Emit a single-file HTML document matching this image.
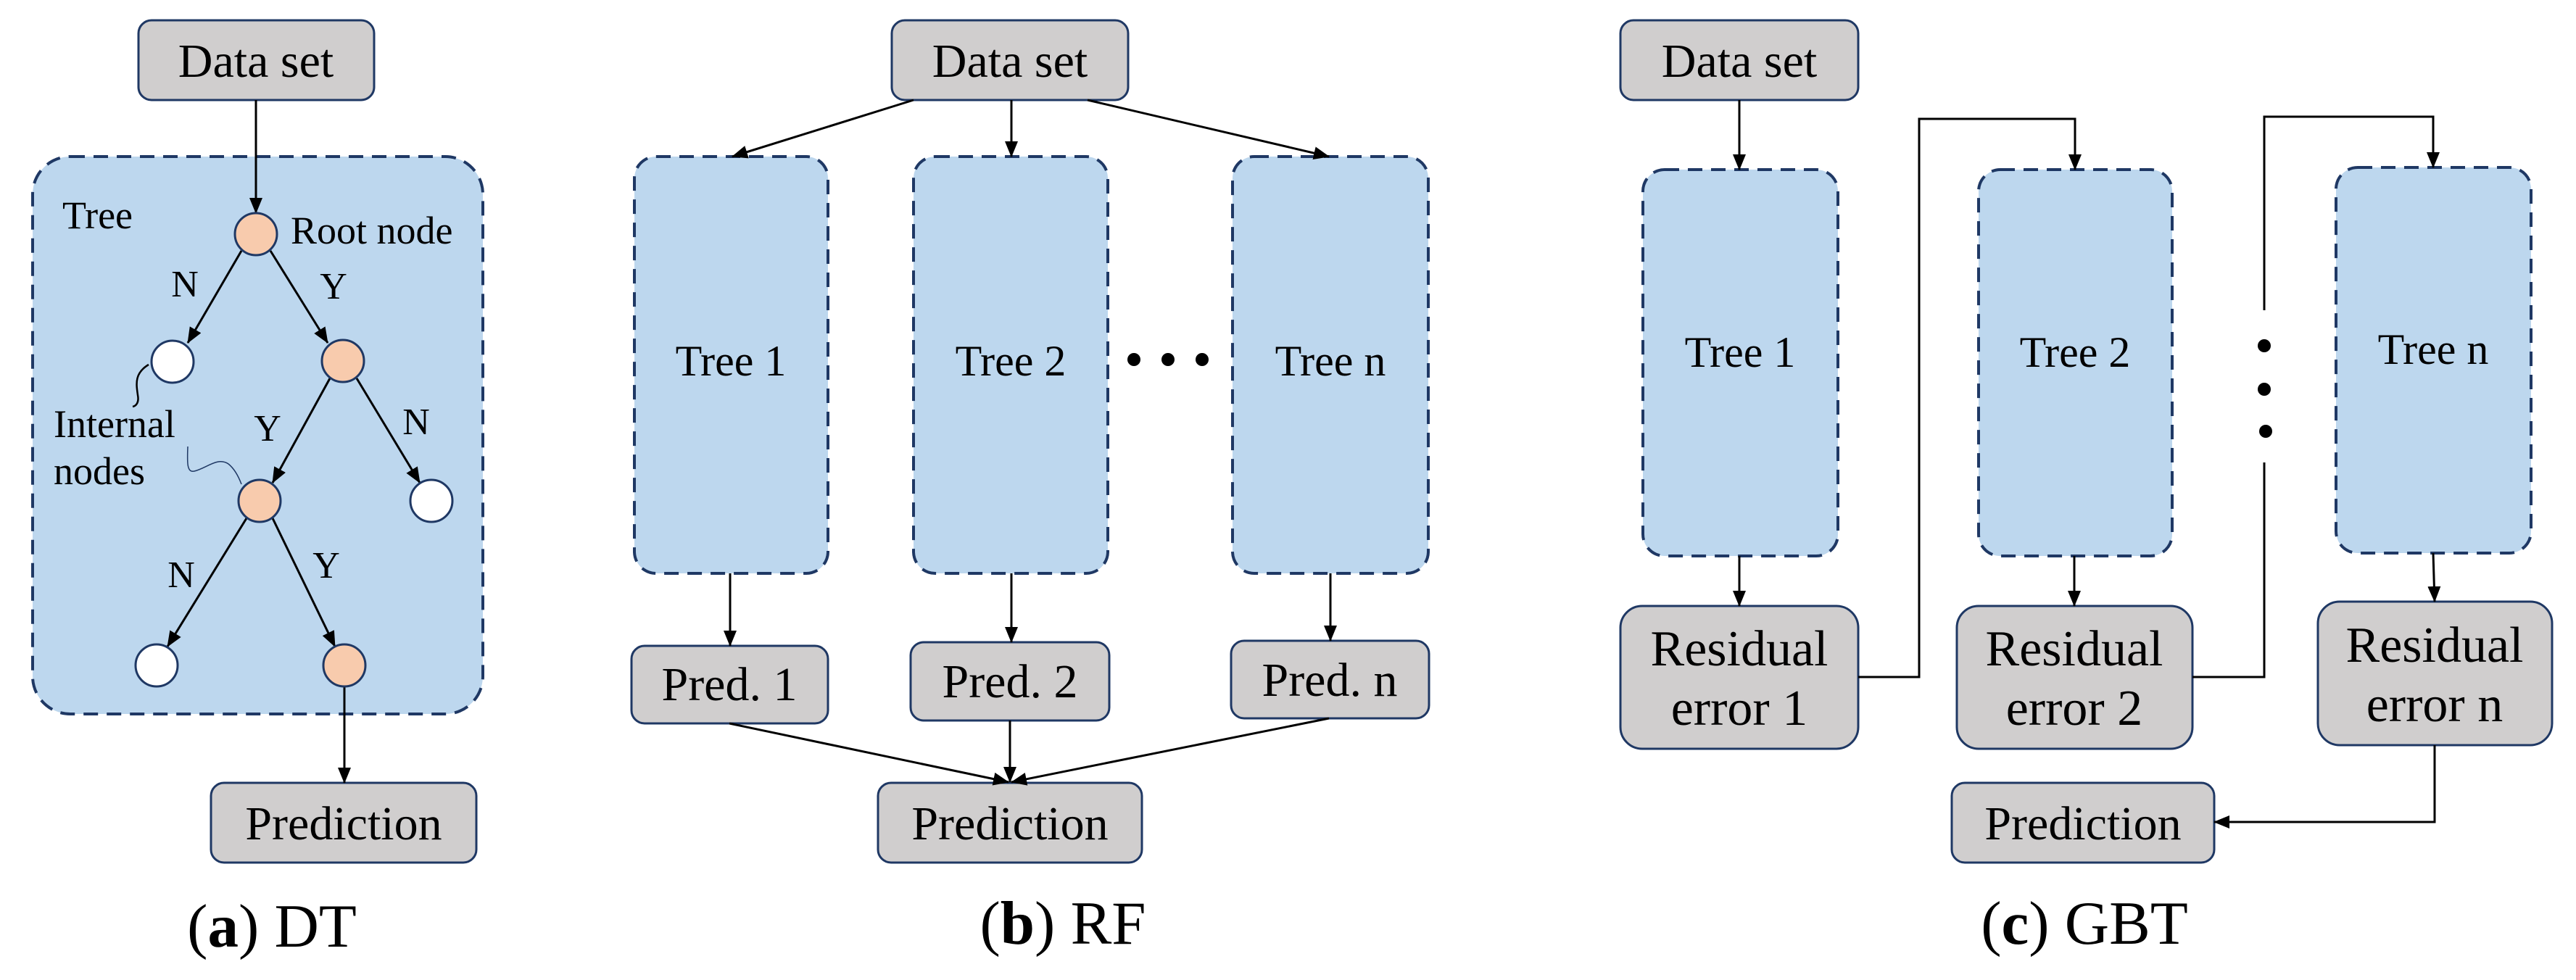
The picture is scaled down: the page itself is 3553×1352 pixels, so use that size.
<!DOCTYPE html>
<html><head><meta charset="utf-8"><style>
html,body{margin:0;padding:0;background:#fff;}
svg{display:block;font-family:"Liberation Serif","DejaVu Serif",serif;}
svg text{font-family:"Liberation Serif","DejaVu Serif",serif !important;fill:#000;}
</style></head><body>
<svg width="3553" height="1352" viewBox="0 0 3553 1352" xmlns="http://www.w3.org/2000/svg" font-family="Liberation Serif, DejaVu Serif, serif">
<defs>
<marker id="ah" markerWidth="22" markerHeight="18" refX="21" refY="9" orient="auto" markerUnits="userSpaceOnUse">
<path d="M0,0 L22,9 L0,18 Z" fill="#000"/>
</marker>
</defs>
<g stroke="#1f3864" stroke-width="3">
<rect x="191" y="28" width="325" height="110" rx="18" fill="#d0cece"/>
<rect x="291" y="1080" width="366" height="110" rx="18" fill="#d0cece"/>
<rect x="1230" y="28" width="326" height="110" rx="18" fill="#d0cece"/>
<rect x="871" y="891" width="271" height="107" rx="18" fill="#d0cece"/>
<rect x="1256" y="886" width="274" height="108" rx="18" fill="#d0cece"/>
<rect x="1698" y="884" width="273" height="107" rx="18" fill="#d0cece"/>
<rect x="1211" y="1080" width="364" height="110" rx="18" fill="#d0cece"/>
<rect x="2235" y="28" width="328" height="110" rx="18" fill="#d0cece"/>
<rect x="2235" y="836" width="328" height="197" rx="30" fill="#d0cece"/>
<rect x="2699" y="836" width="325" height="197" rx="30" fill="#d0cece"/>
<rect x="3197" y="830" width="323" height="198" rx="30" fill="#d0cece"/>
<rect x="2692" y="1080" width="362" height="110" rx="18" fill="#d0cece"/>
</g>
<g stroke="#1f3864" stroke-width="4" stroke-dasharray="20 12" fill="#bdd7ee">
<rect x="45" y="216" width="621" height="769" rx="52"/>
<rect x="875" y="216" width="267" height="575" rx="30"/>
<rect x="1260" y="216" width="268" height="575" rx="30"/>
<rect x="1700" y="216" width="270" height="575" rx="30"/>
<rect x="2266" y="234" width="269" height="533" rx="30"/>
<rect x="2729" y="234" width="267" height="533" rx="30"/>
<rect x="3222" y="231" width="269" height="532" rx="30"/>
</g>
<g stroke="#000" stroke-width="3" fill="none" marker-end="url(#ah)">
<line x1="353" y1="138" x2="353" y2="294"/>
<line x1="333" y1="346" x2="259" y2="473"/>
<line x1="373" y1="346" x2="452" y2="473"/>
<line x1="455" y1="522" x2="376" y2="666"/>
<line x1="492" y1="522" x2="579" y2="666"/>
<line x1="340" y1="715" x2="231" y2="892"/>
<line x1="376" y1="715" x2="462" y2="892"/>
<line x1="475" y1="947" x2="475" y2="1080"/>
<line x1="1260" y1="138" x2="1010" y2="216"/>
<line x1="1395" y1="138" x2="1395" y2="216"/>
<line x1="1500" y1="138" x2="1833" y2="216"/>
<line x1="1007" y1="791" x2="1007" y2="891"/>
<line x1="1395" y1="791" x2="1395" y2="886"/>
<line x1="1835" y1="791" x2="1835" y2="884"/>
<line x1="1006" y1="998" x2="1391" y2="1079"/>
<line x1="1393" y1="994" x2="1393" y2="1079"/>
<line x1="1833" y1="991" x2="1395" y2="1079"/>
<line x1="2399" y1="138" x2="2399" y2="234"/>
<line x1="2399" y1="767" x2="2399" y2="836"/>
<line x1="2861" y1="767" x2="2861" y2="836"/>
<line x1="3356" y1="763" x2="3358" y2="830"/>
<polyline points="2563,934 2647,934 2647,164 2862,164 2862,234"/>
<polyline points="3123,428 3123,161 3356,161 3356,231"/>
<polyline points="3358,1028 3358,1134 3054,1134"/>
</g>
<polyline points="3024,934 3123,934 3123,638" stroke="#000" stroke-width="3" fill="none"/>
<path d="M205,503 C185,515 188,530 190,545 C192,555 188,560 183,561" stroke="#000" stroke-width="2.5" fill="none"/>
<path d="M259,616 C258,640 258,652 268,650 C285,646 300,630 315,640 C325,648 330,660 333,668" stroke="#1f3864" stroke-width="1.5" fill="none"/>
<g stroke="#1f3864" stroke-width="3">
<circle cx="353" cy="323" r="29" fill="#f8cbad"/>
<circle cx="238" cy="499" r="29" fill="#fff"/>
<circle cx="473" cy="498" r="29" fill="#f8cbad"/>
<circle cx="358" cy="691" r="29" fill="#f8cbad"/>
<circle cx="595" cy="691" r="29" fill="#fff"/>
<circle cx="216" cy="918" r="29" fill="#fff"/>
<circle cx="475" cy="918" r="29" fill="#f8cbad"/>
</g>
<g fill="#000">
<circle cx="1564" cy="496" r="9"/><circle cx="1611" cy="496" r="9"/><circle cx="1658" cy="496" r="9"/>
<circle cx="3123" cy="477" r="9"/><circle cx="3123" cy="537" r="9"/><circle cx="3125" cy="595" r="9"/>
</g>
<g font-size="66" text-anchor="middle" font-family="Liberation Serif, DejaVu Serif, serif">
<text x="353" y="106">Data set</text>
<text x="474" y="1158">Prediction</text>
<text x="1393" y="106">Data set</text>
<text x="1006" y="966">Pred. 1</text>
<text x="1393" y="962">Pred. 2</text>
<text x="1834" y="960">Pred. n</text>
<text x="1393" y="1158">Prediction</text>
<text x="2399" y="106">Data set</text>
<text x="2873" y="1158">Prediction</text>
</g>
<g font-size="70" text-anchor="middle" font-family="Liberation Serif, DejaVu Serif, serif">
<text x="2399" y="918">Residual</text>
<text x="2399" y="1000">error 1</text>
<text x="2861" y="918">Residual</text>
<text x="2861" y="1000">error 2</text>
<text x="3358" y="913">Residual</text>
<text x="3358" y="995">error n</text>
</g>
<g font-size="60" text-anchor="middle" font-family="Liberation Serif, DejaVu Serif, serif">
<text x="1008" y="518">Tree 1</text>
<text x="1394" y="518">Tree 2</text>
<text x="1835" y="518">Tree n</text>
<text x="2400" y="506">Tree 1</text>
<text x="2862" y="506">Tree 2</text>
<text x="3356" y="502">Tree n</text>
</g>
<g font-size="54" font-family="Liberation Serif, DejaVu Serif, serif">
<text x="86" y="315">Tree</text>
<text x="401" y="336">Root node</text>
<text x="74" y="603">Internal</text>
<text x="74" y="668">nodes</text>
</g>
<g font-size="52" text-anchor="middle" font-family="Liberation Serif, DejaVu Serif, serif">
<text x="255" y="409">N</text>
<text x="460" y="412">Y</text>
<text x="369" y="608">Y</text>
<text x="574" y="599">N</text>
<text x="250" y="810">N</text>
<text x="450" y="797">Y</text>
</g>
<g font-size="85" text-anchor="middle" font-family="Liberation Serif, DejaVu Serif, serif">
<text x="375" y="1306">(<tspan font-weight="bold">a</tspan>) DT</text>
<text x="1466" y="1302">(<tspan font-weight="bold">b</tspan>) RF</text>
<text x="2875" y="1302">(<tspan font-weight="bold">c</tspan>) GBT</text>
</g>
</svg>
</body></html>
